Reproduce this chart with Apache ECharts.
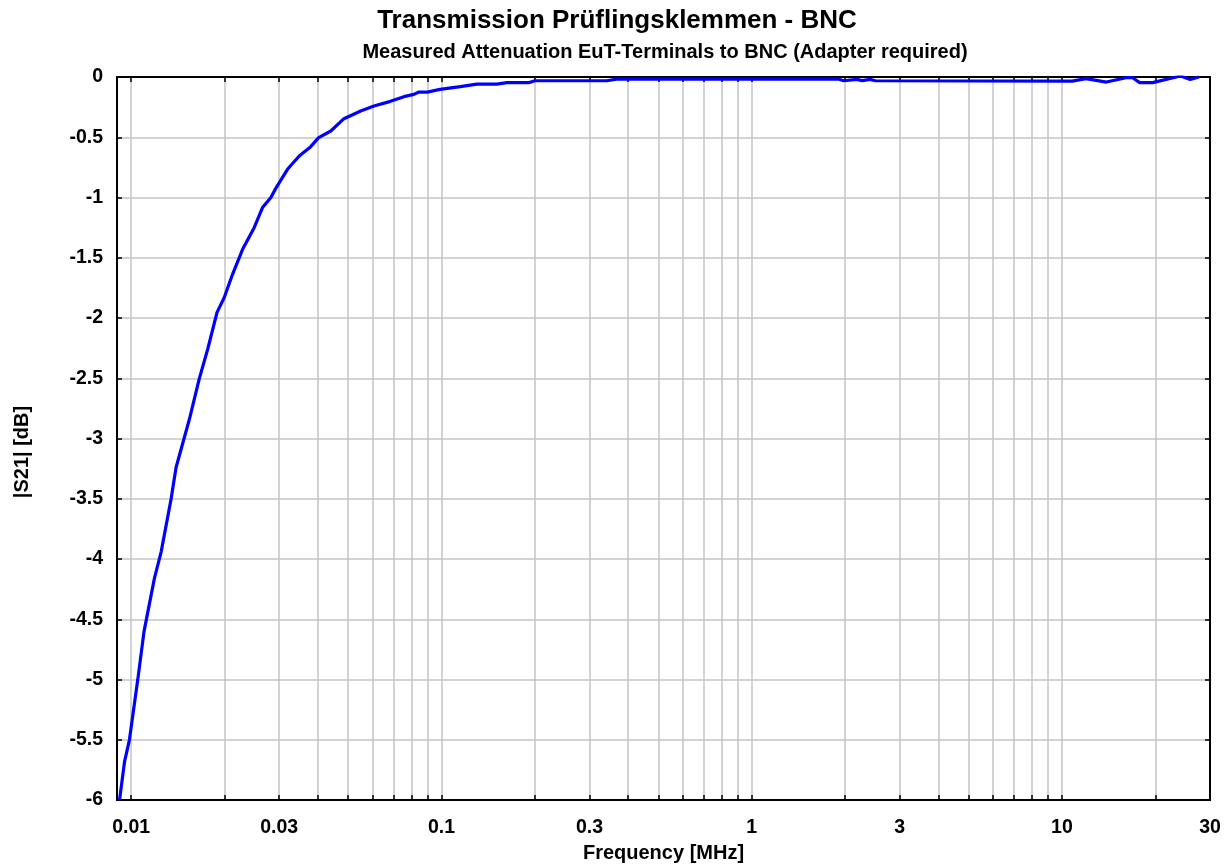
<!DOCTYPE html>
<html><head><meta charset="utf-8">
<script src="https://cdn.jsdelivr.net/npm/echarts@6/dist/echarts.min.js"></script>
<style>html,body{margin:0;padding:0;background:#fff}#c{width:1232px;height:868px}</style>
</head><body><div id="c"></div>
<script>
const freqMHz = [0.00917,0.00952,0.00987,0.0105,0.0110,0.01188,0.01249,0.01345,0.01395,0.0154,0.01657,0.01765,0.01891,0.01995,0.02123,0.02286,0.02491,0.0265,0.0282,0.0293,0.0319,0.0348,0.0379,0.0402,0.0440,0.0485,0.0549,0.0606,0.0685,0.0757,0.0815,0.0846,0.0900,0.0990,0.115,0.130,0.151,0.1625,0.191,0.200,0.241,0.341,0.367,1.90,1.98,2.18,2.27,2.41,2.50,10.8,11.95,13.9,16.1,16.9,17.8,19.6,24.1,25.9,27.6];
const s21dB = [-6.0,-5.68,-5.50,-5.0,-4.60,-4.16,-3.94,-3.50,-3.24,-2.84,-2.505,-2.257,-1.953,-1.83,-1.635,-1.43,-1.25,-1.083,-1.0,-0.92,-0.766,-0.655,-0.578,-0.503,-0.448,-0.346,-0.282,-0.241,-0.202,-0.163,-0.144,-0.125,-0.125,-0.103,-0.08,-0.059,-0.059,-0.047,-0.047,-0.031,-0.031,-0.031,-0.017,-0.017,-0.031,-0.020,-0.030,-0.020,-0.031,-0.034,-0.014,-0.042,-0.006,-0.006,-0.047,-0.047,0.008,-0.02,0.0];
const gridFreqs = [0.01,0.02,0.03,0.04,0.05,0.06,0.07,0.08,0.09,0.1,0.2,0.3,0.4,0.5,0.6,0.7,0.8,0.9,1,2,3,4,5,6,7,8,9,10,20,30];
const labelFreqs = [0.01,0.03,0.1,0.3,1,3,10,30];
const titleText = 'Transmission Prüflingsklemmen - BNC';
const subtitleText = 'Measured Attenuation EuT-Terminals to BNC (Adapter required)';
const xName = 'Frequency [MHz]';
const yName = '|S21| [dB]';

const FONT = 'Liberation Sans';
const chart = echarts.init(document.getElementById('c'), null, {renderer: 'canvas'});
const gridL = 117, gridR = 22, gridT = 77, gridB = 65;
const xCommon = {
  type: 'log', min: 0.009, max: 30, logBase: 10,
  axisLine: {show: true, onZero: false, lineStyle: {color: '#000', width: 2}},
  axisTick: {show: true, inside: true, length: 5, customValues: gridFreqs, lineStyle: {color: '#000', width: 1.5}},
  splitLine: {show: false},
  minorTick: {show: false}, minorSplitLine: {show: false}
};
const yCommon = {
  type: 'value', min: -6, max: 0, interval: 0.5,
  axisLine: {show: true, onZero: false, lineStyle: {color: '#000', width: 2}},
  axisTick: {show: true, inside: true, length: 5, lineStyle: {color: '#000', width: 1.5}},
  splitLine: {show: false}
};
chart.setOption({
  animation: false,
  backgroundColor: '#fff',
  graphic: [
    {type: 'text', x: 617, y: 21, style: {text: titleText, fontFamily: FONT, fontWeight: 'bold', fontSize: 26, fill: '#000', textAlign: 'center', textVerticalAlign: 'middle'}},
    {type: 'text', x: 665, y: 52, style: {text: subtitleText, fontFamily: FONT, fontWeight: 'bold', fontSize: 20, fill: '#000', textAlign: 'center', textVerticalAlign: 'middle'}},
    {type: 'text', x: 22, y: 452, rotation: Math.PI / 2, style: {text: yName, fontFamily: FONT, fontWeight: 'bold', fontSize: 20, fill: '#000', textAlign: 'center', textVerticalAlign: 'middle'}}
  ],
  grid: {left: gridL, right: gridR, top: gridT, bottom: gridB, containLabel: false},
  xAxis: [
    Object.assign({}, xCommon, {
      position: 'bottom',
      name: xName, nameLocation: 'middle', nameGap: 40,
      nameTextStyle: {fontFamily: FONT, fontWeight: 'bold', fontSize: 20, color: '#000'},
      splitLine: {show: true, lineStyle: {color: '#c4c4c4', width: 1.5}},
      axisLabel: {show: true, customValues: labelFreqs, margin: 18, fontFamily: FONT, fontWeight: 'bold', fontSize: 19.5, color: '#000',
        formatter: v => String(+v.toPrecision(3))}
    }),
    Object.assign({}, xCommon, {position: 'top', axisLabel: {show: false}})
  ],
  yAxis: [
    Object.assign({}, yCommon, {
      position: 'left',
      splitLine: {show: true, lineStyle: {color: '#c4c4c4', width: 1.5}},
      axisLabel: {show: true, margin: 14, fontFamily: FONT, fontWeight: 'bold', fontSize: 19.5, color: '#000'}
    }),
    Object.assign({}, yCommon, {position: 'right', axisLabel: {show: false}})
  ],
  series: [{
    type: 'line', xAxisIndex: 0, yAxisIndex: 0,
    data: freqMHz.map((f, i) => [f, s21dB[i]]),
    showSymbol: false, symbol: 'none', clip: true,
    lineStyle: {color: '#0000ff', width: 3.2},
    z: 5
  }]
});
</script></body></html>
